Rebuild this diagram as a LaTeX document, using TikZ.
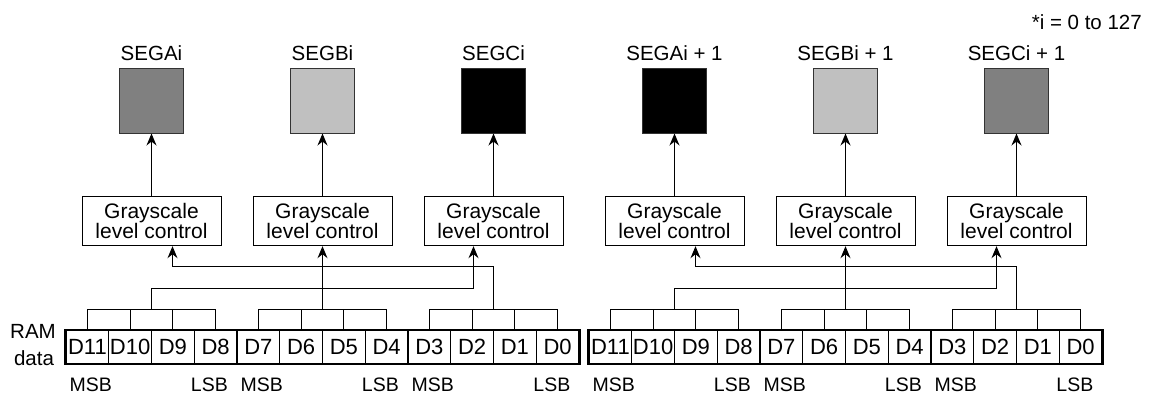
\documentclass[tikz,border=0pt]{standalone}
\usepackage{fontspec}
\setmainfont{Liberation Sans}
\usetikzlibrary{arrows.meta}
\definecolor{midgray}{HTML}{808080}
\definecolor{lightgray}{HTML}{C0C0C0}
\definecolor{edgegray}{HTML}{333333}
\begin{document}
\begin{tikzpicture}[x=1pt,y=-1pt,
  wire/.style={line width=1pt},
  feed/.style={wire,-{Stealth[length=12pt,width=10pt,inset=4pt]}},
  seg/.style={draw=edgegray,line width=1pt,minimum width=64pt,minimum height=64pt,inner sep=0},
  ctrl/.style={draw,line width=1pt,minimum width=139pt,minimum height=49pt,inner sep=0,
    align=center,font=\fontsize{21}{20.5}\selectfont},
  cell/.style={draw,line width=0.9pt,minimum width=42.75pt,minimum height=33pt,inner sep=0,
    font=\fontsize{22}{22}\selectfont},
  lbl/.style={font=\fontsize{20.5}{21}\selectfont,inner sep=0},
  bitlbl/.style={font=\fontsize{19.5}{20}\selectfont,inner sep=0}
]
\useasboundingbox (0,0) rectangle (1152,396);

% note on the segment index
\node[lbl,anchor=base east] (note) at (1142,29.3) {*i = 0 to 127};

% register label
\node[lbl,anchor=base] (ram) at (33,338.3) {RAM};
\node[lbl,anchor=base] (data) at (34,365) {data};

% two halves: segment i (left) and segment i+1 (right)
\foreach \h/\o/\sfx/\ca/\cb/\cc in {L/0//midgray/lightgray/black, R/523/ + 1/black/lightgray/midgray} {

  % segment squares with their names
  \node[seg,fill=\ca] (\h sqA) at (151.5+\o,101) {};
  \node[seg,fill=\cb] (\h sqB) at (322.5+\o,101) {};
  \node[seg,fill=\cc] (\h sqC) at (493.5+\o,101) {};
  \node[lbl,anchor=base] (\h nA) at (151.5+\o,61) {SEGAi\sfx};
  \node[lbl,anchor=base] (\h nB) at (322.5+\o,61) {SEGBi\sfx};
  \node[lbl,anchor=base] (\h nC) at (493.5+\o,61) {SEGCi\sfx};

  % grayscale level control blocks
  \node[ctrl] (\h A) at (151.5+\o,221.2) {Grayscale\\level control};
  \node[ctrl] (\h B) at (322.5+\o,221.2) {Grayscale\\level control};
  \node[ctrl] (\h C) at (493.5+\o,221.2) {Grayscale\\level control};

  \draw[feed] (\h A.north) -- (\h sqA.south);
  \draw[feed] (\h B.north) -- (\h sqB.south);
  \draw[feed] (\h C.north) -- (\h sqC.south);

  % RAM data cells D11..D0
  \foreach \k [evaluate=\k as \b using {int(11-\k)}] in {0,...,11} {
    \node[cell] (\h\b) at (66+\o+42.75*\k+21.375,347) {D\b};
  }
  \draw[line width=2.2pt] (\h11.north west) rectangle (\h0.south east);
  \draw[line width=2pt] (\h7.north west) -- (\h7.south west);
  \draw[line width=2pt] (\h3.north west) -- (\h3.south west);

  % combs joining each nibble
  \foreach \g [evaluate=\g as \ba using {int(11-4*\g)},
               evaluate=\g as \bb using {int(10-4*\g)},
               evaluate=\g as \bc using {int(9-4*\g)},
               evaluate=\g as \bd using {int(8-4*\g)}] in {0,1,2} {
    \draw[wire] (\h\ba.north) -- ++(0,-21) -| (\h\bd.north);
    \draw[wire] (\h\bb.north) -- ++(0,-21);
    \draw[wire] (\h\bc.north) -- ++(0,-21);
  }

  % nibble outputs and their inputs on the control blocks
  \coordinate (\h hubA) at (151.5+\o,309.5);
  \coordinate (\h hubB) at (322.5+\o,309.5);
  \coordinate (\h hubC) at (493.5+\o,309.5);
  \coordinate (\h inA) at ([xshift=21pt]\h A.south);
  \coordinate (\h inC) at ([xshift=-20pt]\h C.south);

  \draw[feed] (\h hubA) -- ++(0,-21) -| (\h inC);
  \draw[feed] (\h hubB) -- (\h B.south);
  \draw[feed] (\h hubC) -- ++(0,-43) -| (\h inA);

  % bit order marks
  \node[bitlbl,anchor=base west] (\h m1) at (69.5+\o,391.5) {MSB};
  \node[bitlbl,anchor=base east] (\h l1) at (228+\o,391.5) {LSB};
  \node[bitlbl,anchor=base west] (\h m2) at (240.5+\o,391.5) {MSB};
  \node[bitlbl,anchor=base east] (\h l2) at (399+\o,391.5) {LSB};
  \node[bitlbl,anchor=base west] (\h m3) at (411.5+\o,391.5) {MSB};
  \node[bitlbl,anchor=base east] (\h l3) at (570.5+\o,391.5) {LSB};
}
\end{tikzpicture}
\end{document}
